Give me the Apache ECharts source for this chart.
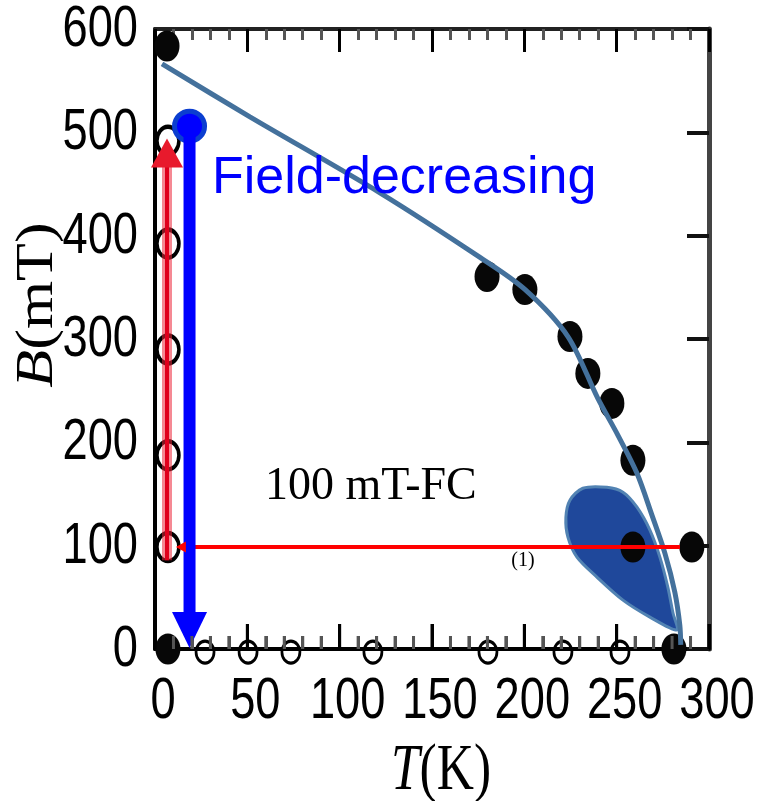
<!DOCTYPE html>
<html><head><meta charset="utf-8">
<script src="https://cdn.jsdelivr.net/npm/echarts@6/dist/echarts.min.js"></script>
<style>html,body{margin:0;padding:0;background:#fff}#c{width:762px;height:801px}</style>
</head><body><div id="c"></div>
<script>
const xTicks = [0, 50, 100, 150, 200, 250, 300];
const yTicks = [0, 100, 200, 300, 400, 500, 600];
const dotT = [6.5, 7, 179.8, 200.3, 224.7, 234.4, 247.4, 258.8, 258.8, 290.7, 281];
const dotB = [583.6, 0, 360.4, 347.8, 302.4, 266.7, 237.7, 182.6, 98.6, 98.6, 0];
const openLeftT = [7, 7, 7, 7, 7];
const openLeftB = [491.8, 392.3, 289.9, 187.4, 98.6];
const openBottomT = [27.1, 50.4, 73.6, 118, 180.3, 220.9, 251.8];
const openBottomB = [-3, -3, -3, -3, -3, -3, -3];
const curveT = [3.8, 51.4, 121.8, 176, 200.3, 223.6, 239.8, 250.7, 261, 269.1, 276.1, 281.5, 284.2, 284.7];
const curveB = [566.2, 515, 441.5, 379, 348, 302.4, 242.5, 206.8, 170, 129.5, 92.8, 55, 23, 4];
const dropT = [224.7, 231.7, 244.7, 253.4, 261, 268, 273.4, 277.7, 280.5, 282.6, 268, 253.4, 239.3, 228.5, 223.6, 222.5];
const dropB = [144, 155.6, 156.5, 151.7, 137.2, 115, 88.9, 59.9, 34.8, 18.4, 30.9, 47.3, 69.6, 88.9, 108.2, 127.5];
const redUpT = [6.5, 6.5];
const redUpB = [86, 480];
const blueDownT = [18.7, 18.7];
const blueDownB = [506, 18.4];
const redLeftT = [284.3, 14];
const redLeftB = [98.6, 98.6];
const startT = [18.7];
const startB = [506];

const pairs = (a, b) => a.map((v, i) => [v, b[i]]);
const arrow = (t, b, sym, size, rot) => [
  { value: [t[0], b[0]], symbol: 'none' },
  { value: [t[1], b[1]], symbol: sym, symbolSize: size, symbolRotate: rot }
];
const tickFont = "58px 'Liberation Sans', Arial, sans-serif";
const SQUEEZE = 0.78;
const MINOR_SPLIT = 5;

const chart = echarts.init(document.getElementById('c'));
const xRange = { type: 'value', min: xTicks[0], max: xTicks[xTicks.length - 1], interval: 50 };
const yRange = { type: 'value', min: yTicks[0], max: yTicks[yTicks.length - 1], interval: 100 };
chart.setOption({
  animation: false,
  backgroundColor: '#fff',
  grid: { left: 155, right: 53, top: 29, bottom: 152 },
  xAxis: [
    Object.assign({}, xRange, { position: 'bottom',
      axisLine: { show: true, onZero: false, lineStyle: { color: '#000', width: 4 } },
      axisTick: { show: true, inside: true, length: 25, lineStyle: { color: '#000', width: 3 } },
      minorTick: { show: true, splitNumber: MINOR_SPLIT, length: 13, lineStyle: { color: '#555', width: 3 } },
      splitLine: { show: false }, axisLabel: { show: false } }),
    Object.assign({}, xRange, { position: 'top',
      axisLine: { show: true, onZero: false, lineStyle: { color: '#222', width: 4 } },
      axisTick: { show: true, inside: true, length: 23, lineStyle: { color: '#000', width: 3 } },
      minorTick: { show: true, splitNumber: MINOR_SPLIT, length: 11, lineStyle: { color: '#555', width: 3 } },
      splitLine: { show: false }, axisLabel: { show: false } })
  ],
  yAxis: [
    Object.assign({}, yRange, { position: 'left',
      axisLine: { show: true, onZero: false, lineStyle: { color: '#000', width: 4 } },
      axisTick: { show: false }, splitLine: { show: false }, axisLabel: { show: false } }),
    Object.assign({}, yRange, { position: 'right',
      axisLine: { show: true, onZero: false, lineStyle: { color: '#444', width: 5 } },
      axisTick: { show: true, inside: true, length: 22, lineStyle: { color: '#111', width: 4 } },
      splitLine: { show: false }, axisLabel: { show: false } })
  ],
  graphic: [
    { id: 'tname', type: 'text', x: 441, y: 772, scaleX: 0.78,
      style: { text: '{i|T}(K)', fontSize: 66, fontFamily: "'Liberation Serif', serif", fill: '#000', align: 'center', verticalAlign: 'middle',
        rich: { i: { fontStyle: 'italic', fontSize: 66, fontFamily: "'Liberation Serif', serif" } } } },
    { id: 'bname', type: 'text', x: 38, y: 305, rotation: Math.PI / 2, scaleY: 0.85,
      style: { text: '{i|B}(mT)', fontSize: 62, fontFamily: "'Liberation Serif', serif", fill: '#000', align: 'center', verticalAlign: 'middle',
        rich: { i: { fontStyle: 'italic', fontSize: 62, fontFamily: "'Liberation Serif', serif" } } } },
    { id: 'fd', type: 'text', x: 212, y: 179, z: 100,
      style: { text: 'Field-decreasing', fontSize: 52, fontFamily: "'Liberation Sans', Arial, sans-serif", fill: '#0000ff', align: 'left', verticalAlign: 'middle' } },
    { id: 'fc', type: 'text', x: 265, y: 487, z: 100,
      style: { text: '100 mT-FC', fontSize: 46, fontFamily: "'Liberation Serif', serif", fill: '#000', align: 'left', verticalAlign: 'middle' } },
    { id: 'one', type: 'text', x: 523, y: 561, z: 100,
      style: { text: '(1)', fontSize: 20, fontFamily: "'Liberation Serif', serif", fill: '#000', align: 'center', verticalAlign: 'middle' } }
  ],
  series: [
    { type: 'custom', data: xTicks.map(v => [v, yTicks[0]]), clip: false, silent: true,
      renderItem: (params, api) => {
        const p = api.coord([api.value(0), api.value(1)]);
        return { type: 'text', x: p[0] + 8, y: p[1] + 53, scaleX: SQUEEZE,
          style: { text: String(api.value(0)), font: tickFont, fill: '#000', align: 'center', verticalAlign: 'middle' } };
      } },
    { type: 'custom', data: yTicks.map(v => [xTicks[0], v]), clip: false, silent: true,
      renderItem: (params, api) => {
        const p = api.coord([api.value(0), api.value(1)]);
        return { type: 'text', x: p[0] - 17, y: p[1] + 1, scaleX: SQUEEZE,
          style: { text: String(api.value(1)), font: tickFont, fill: '#000', align: 'right', verticalAlign: 'middle' } };
      } },
    { type: 'custom', data: [0], clip: false, silent: true,
      renderItem: (params, api) => ({
        type: 'polygon',
        shape: { points: dropT.map((t, i) => api.coord([t, dropB[i]])), smooth: 0.3 },
        style: { fill: '#1f489b', stroke: '#5283b3', lineWidth: 3 }
      }) },
    { type: 'line', data: pairs(curveT, curveB), smooth: 0.3, symbol: 'none',
      lineStyle: { color: '#44719c', width: 5 } },
    { type: 'scatter', data: pairs(openLeftT, openLeftB), symbol: 'circle', symbolSize: [22, 28], clip: false,
      itemStyle: { color: 'rgba(255,255,255,0)', borderColor: '#000', borderWidth: 4, opacity: 1 } },
    { type: 'scatter', data: pairs(openBottomT, openBottomB), symbol: 'circle', symbolSize: [18, 22], clip: false,
      itemStyle: { color: 'rgba(255,255,255,0)', borderColor: '#000', borderWidth: 3, opacity: 1 } },
    { type: 'line', data: arrow(redLeftT, redLeftB, 'triangle', [11, 10], 90),
      lineStyle: { color: '#ff0000', width: 4 }, itemStyle: { color: '#ff0000', opacity: 1 } },
    { type: 'scatter', data: pairs(dotT, dotB), symbol: 'circle', symbolSize: [25, 31], clip: false,
      itemStyle: { color: '#070707', opacity: 1 } },
    { type: 'line', data: pairs(redUpT, redUpB), symbol: 'none',
      lineStyle: { color: 'rgba(236,40,58,0.55)', width: 10 } },
    { type: 'line', data: arrow(redUpT, redUpB, 'triangle', [32, 29], 0),
      lineStyle: { color: '#e0001c', width: 4 }, itemStyle: { color: '#e81a2c', opacity: 1 } },
    { type: 'line', data: arrow(blueDownT, blueDownB, 'triangle', [35, 36], 180),
      lineStyle: { color: '#0000ff', width: 12 }, itemStyle: { color: '#0000ff', opacity: 1 } },
    { type: 'scatter', data: pairs(startT, startB), symbol: 'circle', symbolSize: 30, clip: false,
      itemStyle: { color: '#0000ff', borderColor: '#0b3ed0', borderWidth: 5, opacity: 1 } }
  ]
});

try {
  const tickEls = [];
  const step = (xTicks[1] - xTicks[0]) / MINOR_SPLIT;
  for (let i = 0; i < xTicks.length; i++) {
    const n = i === xTicks.length - 1 ? 1 : MINOR_SPLIT;
    for (let k = 0; k < n; k++) {
      const v = xTicks[i] + k * step;
      const p = chart.convertToPixel({ xAxisIndex: 0, yAxisIndex: 0 }, [v, yTicks[0]]);
      const major = k === 0;
      const len = major ? 25 : 13;
      tickEls.push({ id: 'btick' + i + '_' + k, type: 'line', z: 200,
        shape: { x1: p[0], y1: p[1], x2: p[0], y2: p[1] - len },
        style: { stroke: major ? '#000' : '#555', lineWidth: 3 } });
    }
  }
  chart.setOption({ graphic: { elements: tickEls } });
} catch (e) { /* keep base chart */ }
</script></body></html>
